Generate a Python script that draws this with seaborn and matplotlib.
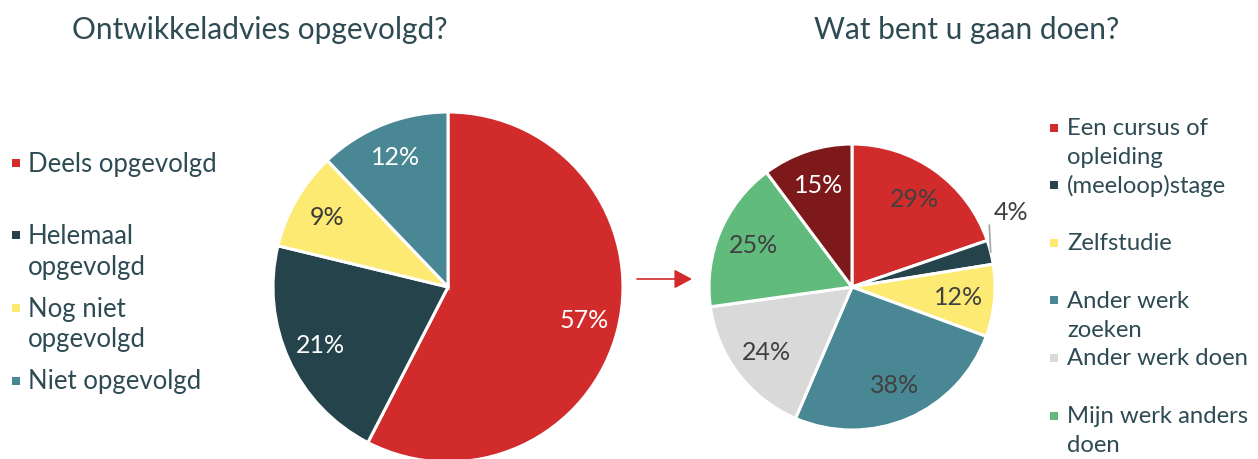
import matplotlib
matplotlib.use("Agg")
import matplotlib.pyplot as plt
import seaborn as sns
import numpy as np
from matplotlib.patches import Rectangle, FancyArrowPatch
from matplotlib.lines import Line2D

# data
left_title = "Ontwikkeladvies opgevolgd?"
left_labels = ["Deels opgevolgd", "Helemaal\nopgevolgd", "Nog niet\nopgevolgd", "Niet opgevolgd"]
left_values = [57, 21, 9, 12]
left_colors = ["#D12B2B", "#25434A", "#FDEA72", "#4A8794"]
left_pct_colors = ["white", "white", "#3A3A3A", "white"]

right_title = "Wat bent u gaan doen?"
right_labels = ["Een cursus of\nopleiding", "(meeloop)stage", "Zelfstudie",
                "Ander werk\nzoeken", "Ander werk doen", "Mijn werk anders\ndoen"]
right_values = [29, 4, 12, 38, 24, 25, 15]
right_colors = ["#D12B2B", "#25434A", "#FDEA72", "#4A8794", "#D9D9D9", "#60BB7D", "#7E191B"]
right_pct_colors = ["#404040", "#404040", "#404040", "#404040", "#404040", "#404040", "white"]

text_color = "#2E4B53"
W, H = 1258, 459

sns.set_theme(style="white")
plt.rcParams["font.family"] = ["Lato", "DejaVu Sans"]

fig = plt.figure(figsize=(W / 100, H / 100), dpi=100)


def fx(x):
    return x / W


def fy(y):
    return 1 - y / H


def draw_pie(cx, cy, r, values, colors, pct_colors, pctdist):
    ax = fig.add_axes([fx(cx - r), fy(cy + r), 2 * r / W, 2 * r / H])
    wedges, texts, autotexts = ax.pie(
        values, colors=colors, startangle=90, counterclock=False,
        autopct="%d", pctdistance=pctdist,
        wedgeprops=dict(edgecolor="white", linewidth=2.2),
        textprops=dict(fontsize=18))
    for t, v, c in zip(autotexts, values, pct_colors):
        t.set_text(f"{v}%")
        t.set_color(c)
    ax.set_xlim(-1, 1)
    ax.set_ylim(-1, 1)
    ax.axis("off")
    return ax, wedges, autotexts


def draw_legend(labels, colors, x_mark, x_text, y0, step, line_h, off, size, mark=8):
    for i, (lab, col) in enumerate(zip(labels, colors)):
        base = y0 + i * step
        fig.patches.append(Rectangle((fx(x_mark), fy(base - off + mark / 2)), mark / W, mark / H,
                                     transform=fig.transFigure, facecolor=col, edgecolor="none"))
        for j, line in enumerate(lab.split("\n")):
            fig.text(fx(x_text), fy(base + j * line_h), line, ha="left", va="baseline",
                     fontsize=size, color=text_color)


# left pie
draw_pie(448, 287, 175, left_values, left_colors, left_pct_colors, 0.8)
fig.text(fx(260), fy(39), left_title, ha="center", va="baseline", fontsize=21.5,
         color=text_color)
draw_legend(left_labels, left_colors, 12, 28, 172, 72.5, 30, 9, 18.5)

# right pie
ax2, wedges2, auto2 = draw_pie(852, 287, 143, right_values, right_colors, right_pct_colors, 0.75)
fig.text(fx(967), fy(39), right_title, ha="center", va="baseline", fontsize=21.5,
         color=text_color)
draw_legend(right_labels, right_colors, 1050, 1067, 135, 57.6, 29, 7.5, 17.2)

# small slice label outside with leader line
w = wedges2[1]
mid = np.deg2rad((w.theta1 + w.theta2) / 2)
x0, y0 = np.cos(mid), np.sin(mid)
ax2.add_line(Line2D([x0, x0 - 0.01], [y0, y0 + 0.19], color="#A6A6A6", lw=1.2, clip_on=False))
auto2[1].set_position((x0 + 0.02, y0 + 0.28))
auto2[1].set_ha("left")

# arrow between the pies
fig.patches.append(FancyArrowPatch((fx(637), fy(279)), (fx(692), fy(279)),
                                   transform=fig.transFigure,
                                   arrowstyle="-|>,head_length=10.8,head_width=5.8",
                                   mutation_scale=1, color="#D12B2B", lw=1.2,
                                   shrinkA=0, shrinkB=0))

fig.savefig("out.png", dpi=100)
